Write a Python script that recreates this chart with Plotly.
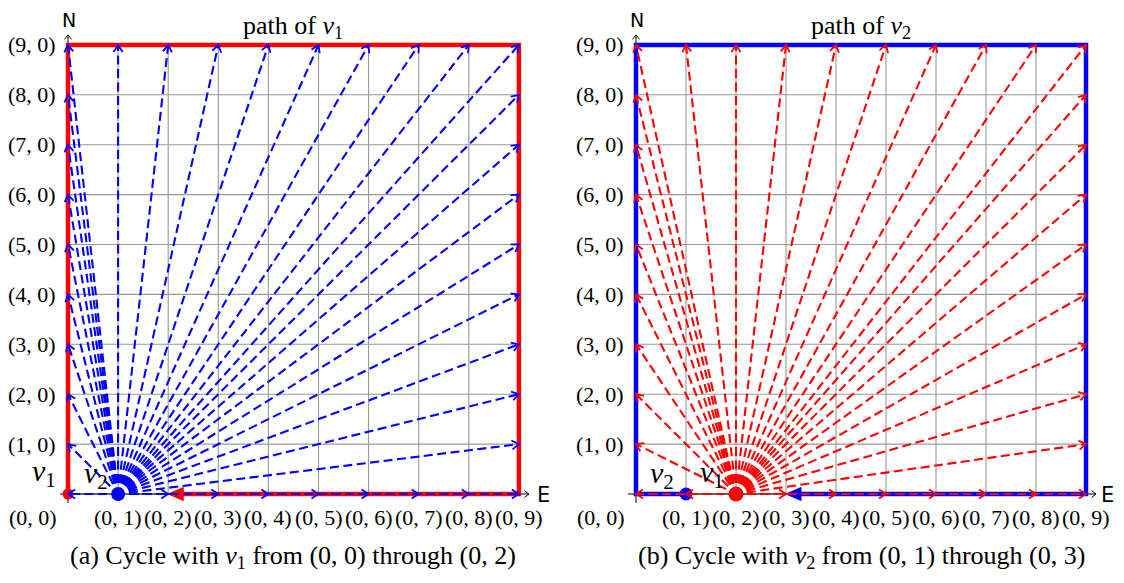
import numpy as np
import plotly.graph_objects as go

# ---------------- data ----------------
grid_n = 9
col_values = [0, 1, 2, 3, 4, 5, 6, 7, 8, 9]
row_values = [1, 2, 3, 4, 5, 6, 7, 8, 9]
x_tick_labels = ["(0, 0)", "(0, 1)", "(0, 2)", "(0, 3)", "(0, 4)",
                 "(0, 5)", "(0, 6)", "(0, 7)", "(0, 8)", "(0, 9)"]
y_tick_labels = ["(1, 0)", "(2, 0)", "(3, 0)", "(4, 0)", "(5, 0)",
                 "(6, 0)", "(7, 0)", "(8, 0)", "(9, 0)"]

# panel (a): v1 at (0,0) walks the boundary; v2 at (0,1) sees everything
a_path_x = [0, 0, 9, 9, 2]
a_path_y = [0, 9, 9, 0, 0]
a_source = (1, 0)     # v2
a_other = (0, 0)      # v1
# panel (b): v2 at (0,1) walks the boundary; v1 at (0,2) sees everything
b_path_x = [1, 0, 0, 9, 9, 3]
b_path_y = [0, 0, 9, 9, 0, 0]
b_source = (2, 0)     # v1
b_other = (1, 0)      # v2

titles = ["path of <i>v</i><sub>1</sub>", "path of <i>v</i><sub>2</sub>"]
captions = ["(a) Cycle with <i>v</i><sub>1</sub> from (0, 0) through (0, 2)",
            "(b) Cycle with <i>v</i><sub>2</sub> from (0, 1) through (0, 3)"]

RED = "#ff0000"
BLUE = "#0000ff"
GRID = "#999999"
SERIF = "Liberation Serif"
SANS = "DejaVu Sans"

# boundary points of the grid
boundary = []
for c in col_values:
    boundary.append((c, 0))
    boundary.append((c, grid_n))
for r in row_values[:-1]:
    boundary.append((0, r))
    boundary.append((grid_n, r))

fig = go.Figure()


def chevron(tip, d, L, W):
    d = np.asarray(d, float)
    d = d / np.linalg.norm(d)
    n = np.array([-d[1], d[0]])
    t = np.asarray(tip, float)
    p1 = t - L * d + W * n
    p2 = t - L * d - W * n
    return [p1[0], t[0], p2[0], None], [p1[1], t[1], p2[1], None]


def panel(xa, ya, path_x, path_y, path_color, dash_color, source, other,
          source_size, other_size):
    # grid
    gx, gy = [], []
    for c in col_values:
        gx += [c, c, None]
        gy += [0, grid_n, None]
    for r in [0] + row_values:
        gx += [0, grid_n, None]
        gy += [r, r, None]
    fig.add_trace(go.Scatter(x=gx, y=gy, mode="lines", xaxis=xa, yaxis=ya,
                             line=dict(color=GRID, width=1.1),
                             hoverinfo="skip", showlegend=False))
    # axes with arrowheads
    ax_x = [-0.16, grid_n + 0.2, None, 0, 0, None]
    ax_y = [0, 0, None, -0.18, grid_n + 0.2, None]
    cx, cy = chevron((grid_n + 0.2, 0), (1, 0), 0.09, 0.07)
    cx2, cy2 = chevron((0, grid_n + 0.2), (0, 1), 0.09, 0.07)
    fig.add_trace(go.Scatter(x=ax_x + cx + cx2, y=ax_y + cy + cy2, mode="lines",
                             xaxis=xa, yaxis=ya,
                             line=dict(color="black", width=1),
                             hoverinfo="skip", showlegend=False))
    # thick path with filled triangle head
    px = list(path_x)
    py = list(path_y)
    tip = np.array([px[-1], py[-1]], float)
    d = tip - np.array([px[-2], py[-2]], float)
    d /= np.linalg.norm(d)
    nrm = np.array([-d[1], d[0]])
    Lt, Wt = 0.30, 0.13
    base = tip - Lt * d
    px[-1], py[-1] = base[0] + 0.03 * d[0], base[1] + 0.03 * d[1]
    fig.add_trace(go.Scatter(x=px, y=py, mode="lines", xaxis=xa, yaxis=ya,
                             line=dict(color=path_color, width=4.5),
                             hoverinfo="skip", showlegend=False))
    tri = [base + Wt * nrm, tip, base - Wt * nrm, base + Wt * nrm]
    fig.add_trace(go.Scatter(x=[p[0] for p in tri], y=[p[1] for p in tri],
                             mode="lines", fill="toself", fillcolor=path_color,
                             xaxis=xa, yaxis=ya,
                             line=dict(color=path_color, width=1),
                             hoverinfo="skip", showlegend=False))
    # the walking vertex
    fig.add_trace(go.Scatter(x=[other[0]], y=[other[1]], mode="markers",
                             xaxis=xa, yaxis=ya,
                             marker=dict(color=path_color, size=other_size),
                             hoverinfo="skip", showlegend=False))
    # dashed sight lines
    src = np.array(source, float)
    hx, hy = [], []
    for t in boundary:
        tv = np.array(t, float)
        if np.allclose(tv, src):
            continue
        dv = tv - src
        dv /= np.linalg.norm(dv)
        st = src + 0.22 * dv
        fig.add_trace(go.Scatter(x=[st[0], tv[0]], y=[st[1], tv[1]], mode="lines",
                                 xaxis=xa, yaxis=ya,
                                 line=dict(color=dash_color, width=2.1,
                                           dash="9px,4.5px"),
                                 hoverinfo="skip", showlegend=False))
        a, b = chevron(tv, dv, 0.14, 0.09)
        hx += a
        hy += b
    fig.add_trace(go.Scatter(x=hx, y=hy, mode="lines", xaxis=xa, yaxis=ya,
                             line=dict(color=dash_color, width=1.8),
                             hoverinfo="skip", showlegend=False))
    fig.add_trace(go.Scatter(x=[source[0]], y=[source[1]], mode="markers",
                             xaxis=xa, yaxis=ya,
                             marker=dict(color=dash_color, size=source_size),
                             hoverinfo="skip", showlegend=False))


panel("x", "y", a_path_x, a_path_y, RED, BLUE, a_source, a_other, 14, 11)
panel("x2", "y2", b_path_x, b_path_y, BLUE, RED, b_source, b_other, 15, 13)

annotations = []
for i, (xr, yr) in enumerate([("x", "y"), ("x2", "y2")]):
    for c, lab in zip(col_values, x_tick_labels):
        annotations.append(dict(x=(c if c > 0 else -0.7), y=-0.48, xref=xr, yref=yr,
                                text=lab, showarrow=False, xanchor="center",
                                yanchor="middle",
                                font=dict(family=SERIF, size=22, color="black")))
    for r, lab in zip(row_values, y_tick_labels):
        annotations.append(dict(x=-0.2, y=r, xref=xr, yref=yr, text=lab,
                                showarrow=False, xanchor="right", yanchor="middle",
                                font=dict(family=SERIF, size=22, color="black")))
    annotations.append(dict(x=0.02, y=9.5, xref=xr, yref=yr, text="N",
                            showarrow=False, xanchor="center", yanchor="middle",
                            font=dict(family=SANS, size=19, color="black")))
    annotations.append(dict(x=9.5 if i == 0 else 9.42, y=-0.02, xref=xr, yref=yr,
                            text="E", showarrow=False, xanchor="center",
                            yanchor="middle",
                            font=dict(family=SANS, size=21, color="black")))
    annotations.append(dict(x=4.5, y=9.36, xref=xr, yref=yr, text=titles[i],
                            showarrow=False, xanchor="center", yanchor="middle",
                            font=dict(family=SERIF, size=26, color="black")))
    annotations.append(dict(x=4.5, y=-1.27, xref=xr, yref=yr, text=captions[i],
                            showarrow=False, xanchor="center", yanchor="middle",
                            font=dict(family=SERIF, size=26, color="black")))

# vertex labels
vlab = [("x", "y", -0.47, 0.43, "<i>v</i><sub>1</sub>"),
        ("x", "y", 0.56, 0.38, "<i>v</i><sub>2</sub>"),
        ("x2", "y2", 0.52, 0.38, "<i>v</i><sub>2</sub>"),
        ("x2", "y2", 1.52, 0.4, "<i>v</i><sub>1</sub>")]
for xr, yr, x, y, t in vlab:
    annotations.append(dict(x=x, y=y, xref=xr, yref=yr, text=t, showarrow=False,
                            xanchor="center", yanchor="middle",
                            font=dict(family=SERIF, size=30, color="black")))

# page body has an 8px margin: the figure spans reference pixels 8..1116 / 8..575
OFF = 8
W, H = 1124 - 2 * OFF, 583 - 2 * OFF
x0a, sa = 68, 50.1     # reference pixel of column 0 and pixels per column (a)
x0b, sb = 636, 50.0    # same for panel (b)
y0, sy = 494, 49.9     # reference pixel of row 0 and pixels per row
split = 562
fig.update_layout(
    width=W, height=H, margin=dict(l=0, r=0, t=0, b=0),
    paper_bgcolor="white", plot_bgcolor="white",
    xaxis=dict(domain=[0, (split - OFF) / W],
               range=[(OFF - x0a) / sa, (split - x0a) / sa],
               visible=False, fixedrange=True),
    xaxis2=dict(domain=[(split - OFF) / W, 1],
                range=[(split - x0b) / sb, (OFF + W - x0b) / sb],
                visible=False, fixedrange=True),
    yaxis=dict(domain=[0, 1], range=[(y0 - (OFF + H)) / sy, (y0 - OFF) / sy],
               visible=False, fixedrange=True),
    yaxis2=dict(domain=[0, 1], range=[(y0 - (OFF + H)) / sy, (y0 - OFF) / sy],
                visible=False, fixedrange=True, anchor="x2"),
    annotations=annotations,
    showlegend=False,
)
fig.write_html("out.html")
